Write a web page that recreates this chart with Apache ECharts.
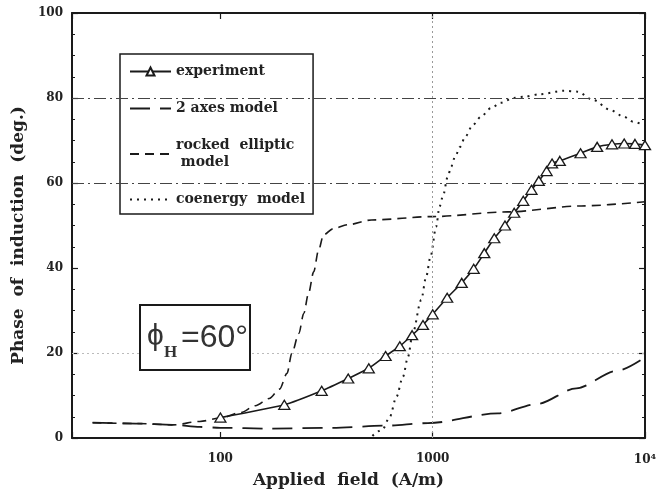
<!DOCTYPE html>
<html><head><meta charset="utf-8">
<script src="https://cdn.jsdelivr.net/npm/echarts@6/dist/echarts.min.js"></script>
<style>html,body{margin:0;padding:0;background:#fff}#c{width:661px;height:501px}</style>
</head><body><div id="c"></div>
<script>
// ---- data ----
const expH = [100,200,300,400,500,600,700,800,900,1000,1170,1370,1560,1750,1950,2190,2420,2670,2920,3160,3440,3650,3970,4970,5950,6990,7980,8970,10000];
const expPhase = [4.8,7.8,11.1,14.0,16.4,19.3,21.6,24.2,26.6,29.1,33.0,36.5,39.8,43.5,47.0,50.0,53.0,55.8,58.4,60.5,62.8,64.6,65.2,67.0,68.5,69.1,69.3,69.2,68.9];

const twoAxesH = [25,40,60,80,100,170,335,600,950,2030,3100,4750,7370,10000];
const twoAxesPhase = [3.6,3.4,3.1,2.6,2.4,2.2,2.4,2.9,3.5,5.8,8.0,11.7,15.8,19.0];

const rockedH = [25,40,60,80,100,125,146,170,190,206,217,234,247,260,275,290,306,341,400,515,1000,2250,5000,10000];
const rockedPhase = [3.6,3.4,3.1,3.9,4.7,6.0,7.6,9.3,11.5,15.2,19.9,24.6,29.3,34.0,39.1,44.2,47.8,49.3,50.2,51.3,52.1,53.2,54.6,55.6];

const coenergyH = [520,580,628,675,724,765,805,883,932,977,1038,1076,1116,1178,1221,1275,1345,1424,1543,1687,1879,2094,2400,2685,3205,4145,4800,5720,6850,7940,8800,10000];
const coenergyPhase = [0.5,2.0,5.0,9.7,14.4,19.1,24.6,32.5,38.0,42.7,49.7,54.4,56.8,61.5,63.8,66.2,68.5,70.9,73.6,75.6,77.6,78.9,80.0,80.3,80.9,81.7,81.5,79.5,77.2,75.6,74.4,73.5];

const xTickLabels = {100: '100', 1000: '1000', 10000: '{b|10}{s|4}'};
const gridLinesY = [80, 60, 20];
const gridLineX = 1000;

function pairs(h, v) { return h.map((x, i) => [x, v[i]]); }

const serif = '"DejaVu Serif", serif';
const ink = '#1a1a1a';

const chart = echarts.init(document.getElementById('c'), null, {renderer: 'canvas'});

const axisLineStyle = {color: ink, width: 2};
const hiddenSymbol = {opacity: 0};

chart.setOption({
  animation: false,
  backgroundColor: '#fff',
  grid: {left: 72, right: 16, top: 13, bottom: 63},
  xAxis: [{
    type: 'log', min: 20, max: 10000, position: 'bottom',
    axisLine: {show: true, onZero: false, lineStyle: axisLineStyle},
    axisTick: {show: true, inside: true, length: 6, lineStyle: {color: ink, width: 1.2}},
    splitLine: {show: false},
    axisLabel: {
      margin: 15, color: '#222', fontFamily: serif, fontWeight: 'bold', fontSize: 12,
      formatter: v => xTickLabels[Math.round(v)] || '',
      rich: {
        b: {fontFamily: serif, fontWeight: 'bold', fontSize: 12, color: '#222'},
        s: {fontFamily: serif, fontWeight: 'bold', fontSize: 8, color: '#222', verticalAlign: 'top', padding: [0, 0, 6, 0]}
      }
    },
    name: 'Applied  field  (A/m)', nameLocation: 'middle', nameGap: 34,
    nameTextStyle: {fontFamily: serif, fontWeight: 'bold', fontSize: 17, color: '#222', padding: [0, 20, 0, 0]}
  }, {
    type: 'log', min: 20, max: 10000, position: 'top',
    axisLine: {show: true, onZero: false, lineStyle: axisLineStyle},
    axisTick: {show: true, inside: true, length: 6, lineStyle: {color: ink, width: 1.2}},
    axisLabel: {show: false}, splitLine: {show: false}
  }],
  yAxis: [{
    type: 'value', min: 0, max: 100, interval: 20, position: 'left',
    axisLine: {show: true, onZero: false, lineStyle: axisLineStyle},
    axisTick: {show: true, inside: true, length: 6, lineStyle: {color: ink, width: 1.2}},
    minorTick: {show: true, splitNumber: 4, length: 3, lineStyle: {color: ink, width: 1}},
    splitLine: {show: false},
    axisLabel: {margin: 9, color: '#222', fontFamily: serif, fontWeight: 'bold', fontSize: 12},
    name: 'Phase  of  induction  (deg.)', nameLocation: 'middle', nameGap: 40,
    nameTextStyle: {fontFamily: serif, fontWeight: 'bold', fontSize: 17, color: '#222', padding: [0, 20, 0, 0]}
  }, {
    type: 'value', min: 0, max: 100, interval: 20, position: 'right',
    axisLine: {show: true, onZero: false, lineStyle: axisLineStyle},
    axisTick: {show: true, inside: true, length: 6, lineStyle: {color: ink, width: 1.2}},
    minorTick: {show: true, splitNumber: 4, length: 3, lineStyle: {color: ink, width: 1}},
    splitLine: {show: false}, axisLabel: {show: false}
  }],
  legend: {
    orient: 'vertical', left: 120, top: 54,
    data: [
      {name: 'experiment'},
      {name: '2 axes model', itemStyle: hiddenSymbol},
      {name: 'rocked elliptic model', itemStyle: hiddenSymbol},
      {name: 'coenergy model', itemStyle: hiddenSymbol}
    ],
    formatter: n => n === 'rocked elliptic model' ? 'rocked  elliptic\n model' : (n === 'coenergy model' ? 'coenergy  model' : n),
    backgroundColor: '#fff', borderColor: ink, borderWidth: 1.5,
    padding: [9, 8, 6, 9], itemGap: 20, itemWidth: 41, itemHeight: 10,
    textStyle: {fontFamily: serif, fontWeight: 'bold', fontSize: 14, color: '#222', lineHeight: 17}
  },
  series: [
    {
      name: 'experiment', type: 'line', data: pairs(expH, expPhase),
      symbol: 'triangle', symbolSize: [11, 9], showSymbol: true,
      itemStyle: {color: '#fff', borderColor: ink, borderWidth: 1.3},
      lineStyle: {color: ink, width: 1.6}, smooth: 0.2, z: 5
    },
    {
      name: '2 axes model', type: 'line', data: pairs(twoAxesH, twoAxesPhase),
      symbol: 'none', itemStyle: {color: ink},
      lineStyle: {color: ink, width: 1.8, type: [20, 10]}, smooth: 0.3, smoothMonotone: 'x'
    },
    {
      name: 'rocked elliptic model', type: 'line', data: pairs(rockedH, rockedPhase),
      symbol: 'none', itemStyle: {color: ink},
      lineStyle: {color: ink, width: 1.6, type: [9, 6]}, smooth: 0.3, smoothMonotone: 'x'
    },
    {
      name: 'coenergy model', type: 'line', data: pairs(coenergyH, coenergyPhase),
      symbol: 'none', itemStyle: {color: ink},
      lineStyle: {color: ink, width: 2, type: [2, 5]}, smooth: 0.3, smoothMonotone: 'x'
    },
    {
      name: 'grid', type: 'line', data: [], silent: true,
      markLine: {
        silent: true, symbol: ['none', 'none'], label: {show: false}, animation: false,
        data: [
          {yAxis: gridLinesY[0], lineStyle: {color: '#444', width: 1.2, type: [12, 4, 2, 4]}},
          {yAxis: gridLinesY[1], lineStyle: {color: '#444', width: 1.2, type: [12, 4, 2, 4]}},
          {yAxis: gridLinesY[2], lineStyle: {color: '#bbb', width: 1, type: [2, 3]}},
          {xAxis: gridLineX, lineStyle: {color: '#999', width: 1, type: [2, 3]}}
        ]
      }
    }
  ],
  graphic: [
    {type: 'rect', shape: {x: 140, y: 305, width: 110, height: 65}, style: {fill: '#fff', stroke: ink, lineWidth: 2}, z: 10},
    {type: 'text', x: 147, y: 337, style: {text: 'ϕ', font: '30px "Liberation Sans"', fill: '#333', align: 'left', verticalAlign: 'middle'}, z: 11},
    {type: 'text', x: 164, y: 353, style: {text: 'H', font: 'bold 17px "Liberation Serif"', fill: '#333', align: 'left', verticalAlign: 'middle'}, z: 11},
    {type: 'text', x: 181, y: 338, style: {text: '=60°', font: '32px "Liberation Sans"', fill: '#333', align: 'left', verticalAlign: 'middle'}, z: 11}
  ]
});
</script>
</body></html>
